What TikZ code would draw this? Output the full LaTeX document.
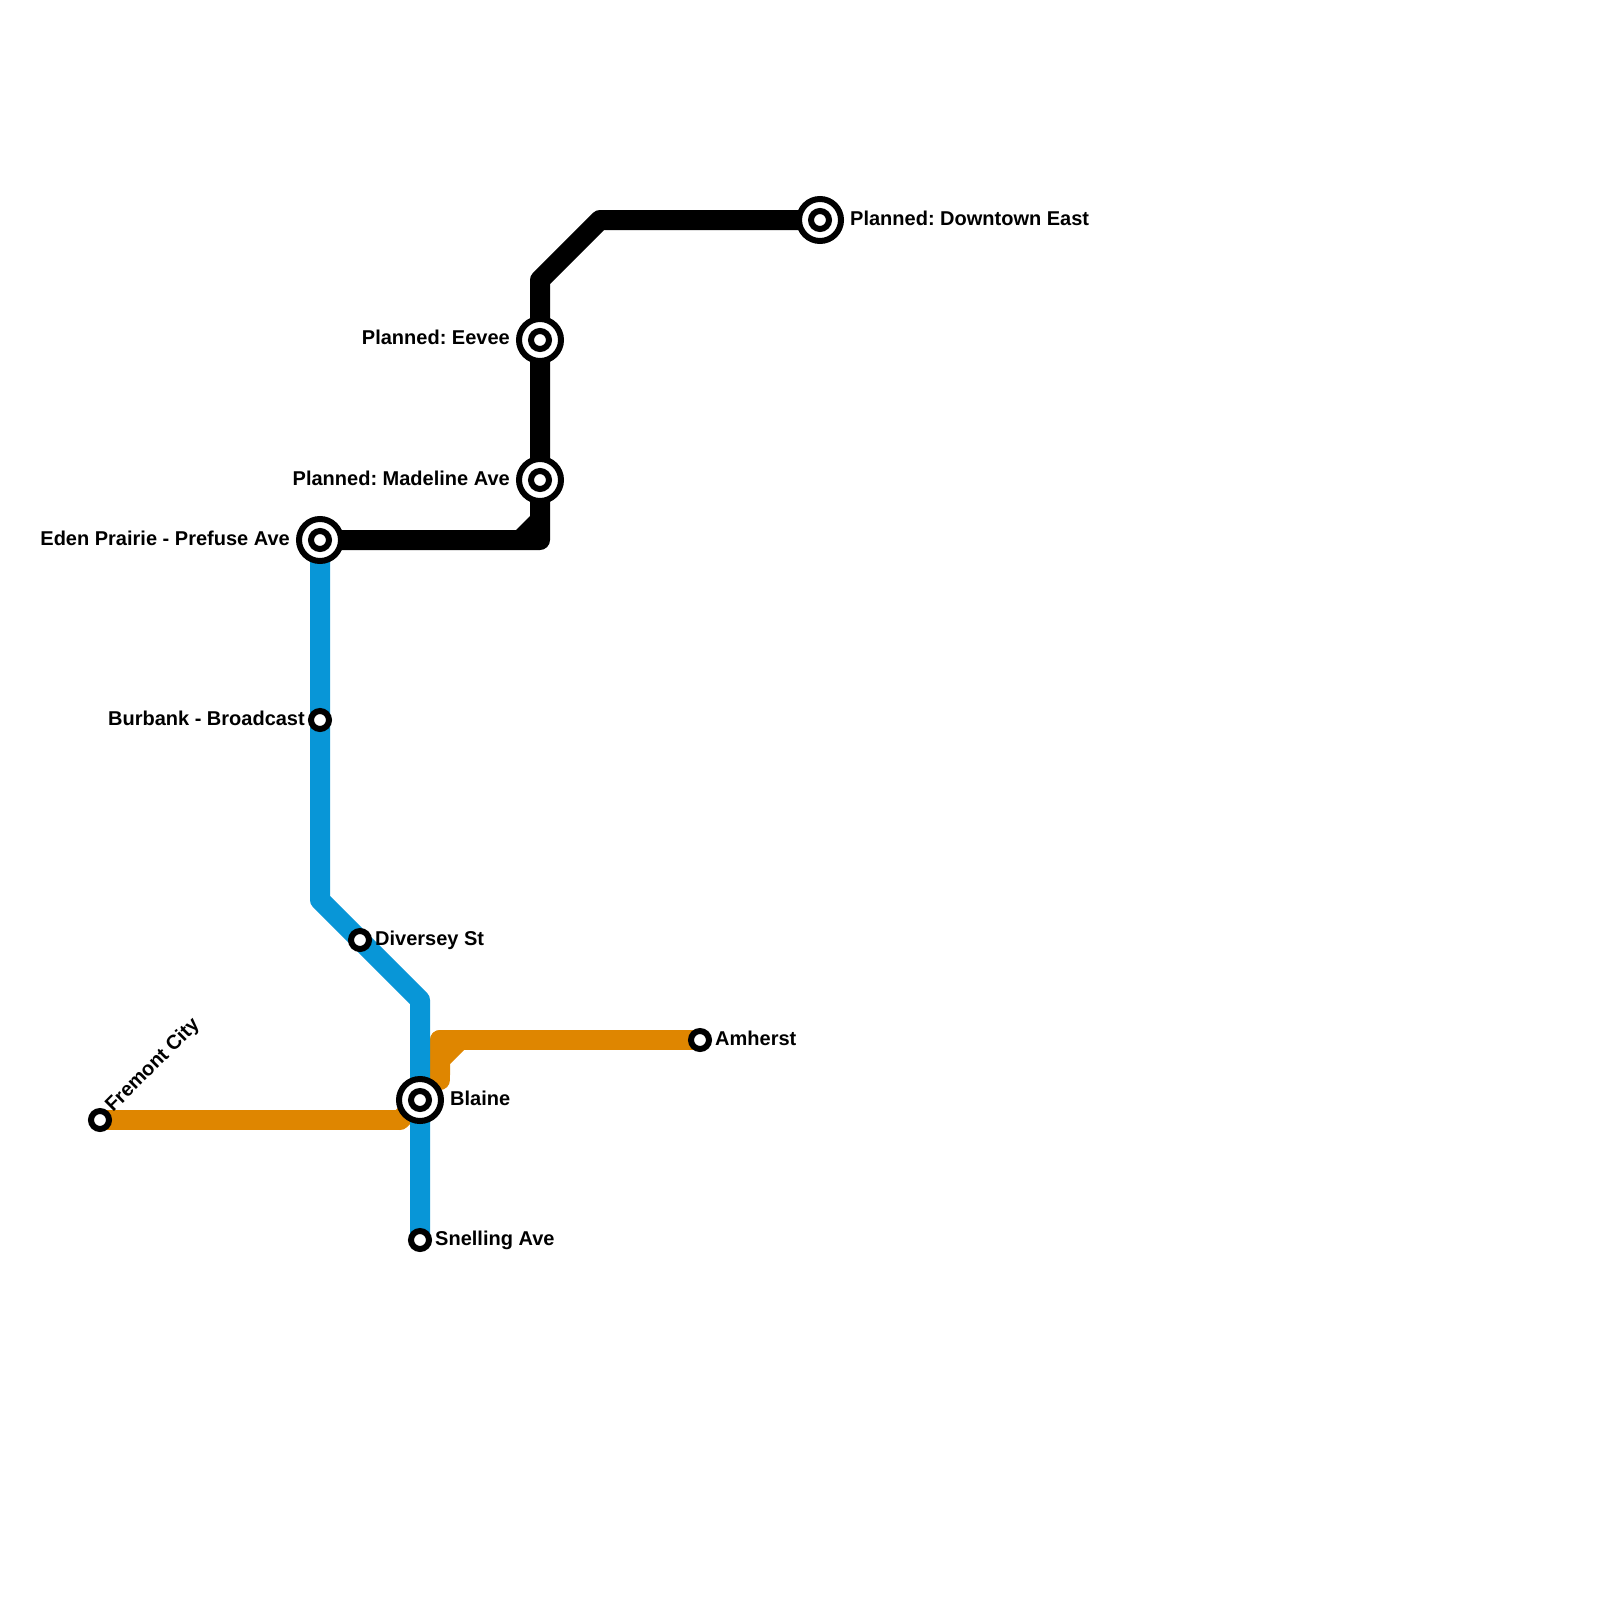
\documentclass[tikz,border=0pt]{standalone}
\usepackage{fontspec}
\setmainfont{Liberation Sans}
\definecolor{lineblue}{HTML}{0896D7}
\definecolor{lineorange}{HTML}{DF8600}
\tikzset{
  x=1pt,y=-1pt,
  metro/.style={line width=20pt,line join=round,line cap=round},
  metrobutt/.style={line width=20pt,line join=round,line cap=butt},
  lbl/.style={inner sep=0pt,font=\fontsize{20}{22}\selectfont\bfseries\frenchspacing,text=black},
  lblr/.style={lbl,anchor=base west},
  lbll/.style={lbl,anchor=base east},
  smallst/.style={circle,draw=black,fill=white,line width=6pt,minimum size=18pt,inner sep=0pt,outer sep=0pt},
  bigst/.style={circle,draw=black,fill=white,line width=6pt,minimum size=42pt,inner sep=0pt,outer sep=0pt}
}
\begin{document}
\begin{tikzpicture}
\useasboundingbox (0,0) rectangle (1600,1600);
\coordinate (eden) at (320,540);
\coordinate (burbank) at (320,720);
\coordinate (diversey) at (360,940);
\coordinate (blaine) at (420,1100);
\coordinate (snelling) at (420,1240);
\coordinate (amherst) at (700,1040);
\coordinate (fremont) at (100,1120);
\coordinate (eevee) at (540,340);
\coordinate (madeline) at (540,480);
\coordinate (downtown) at (820,220);
\coordinate (b1) at (320,900);
\coordinate (b2) at (420,1000);
\coordinate (k1) at (540,540);
\coordinate (k2) at (540,280);
\coordinate (k3) at (600,220);
\coordinate (o1) at (400,1120);
\coordinate (o2) at (440,1040);
\coordinate (o3) at (440,1080);
% orange
\draw[metrobutt,lineorange] (fremont) -- (o1);
\draw[metro,lineorange] (o1) -- (blaine);
\fill[lineorange] (395,1110) rectangle (418,1122);
\fill[lineorange] (430,1040) -- (466,1040) -- (466,1048) -- (450,1064) -- (450,1075) -- (430,1075) -- cycle;
\draw[metro,lineorange] (o3) -- (o2);
\draw[metrobutt,lineorange,line cap=round] (o2) -- (amherst);
% blue
\draw[metrobutt,lineblue] (eden) -- (b1) -- (b2) -- (snelling);
% black
\fill[black] (515,531) -- (531,515) -- (531,540) -- cycle;
\draw[metro,black] (eden) -- (k1) -- (k2) -- (k3) -- (downtown);
% stations
\foreach \n in {eden,blaine,eevee,madeline,downtown}{
  \node[bigst] (\n-o) at (\n) {};
  \node[smallst] (\n-i) at (\n) {};
}
\foreach \n in {burbank,diversey,snelling,amherst,fremont}{
  \node[smallst] (\n-s) at (\n) {};
}
% labels
\node[lbll] (l1) at (290,545) {Eden Prairie - Prefuse Ave};
\node[lbll] (l2) at (305,725) {Burbank - Broadcast};
\node[lblr] (l3) at (375,945) {Diversey St};
\node[lblr] (l4) at (450,1105) {Blaine};
\node[lblr] (l5) at (435,1245) {Snelling Ave};
\node[lblr] (l6) at (715,1045) {Amherst};
\node[lbll] (l7) at (510,344) {Planned: Eevee};
\node[lbll] (l8) at (510,485) {Planned: Madeline Ave};
\node[lblr] (l9) at (850,225) {Planned: Downtown East};
\node[lblr,rotate=45] (l10) at (113,1113) {Fremont City};
\end{tikzpicture}
\end{document}
